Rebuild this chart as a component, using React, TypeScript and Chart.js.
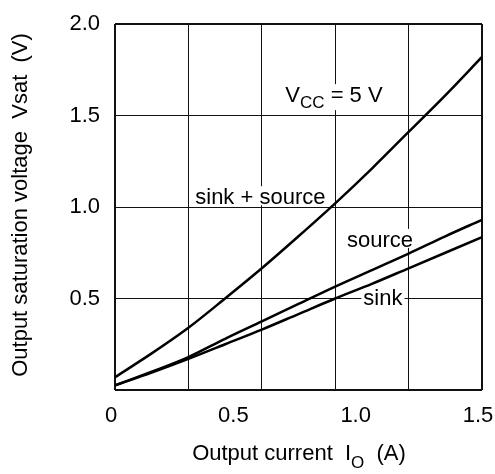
import React, { useEffect, useRef } from "react";
import { Chart, registerables } from "chart.js";

Chart.register(...registerables);

const X_VALUES = [0, 0.15, 0.3, 0.45, 0.6, 0.75, 0.9, 1.05, 1.2, 1.35, 1.5];
const SINK_SOURCE = [0.07, 0.2, 0.34, 0.5, 0.665, 0.84, 1.02, 1.21, 1.41, 1.61, 1.82];
const SOURCE = [0.025, 0.1, 0.18, 0.28, 0.375, 0.47, 0.565, 0.655, 0.745, 0.84, 0.93];
const SINK = [0.025, 0.095, 0.17, 0.25, 0.33, 0.415, 0.5, 0.58, 0.665, 0.75, 0.835];

const X_GRID = [0, 0.3, 0.6, 0.9, 1.2, 1.5];
const X_TICKS = [0, 0.5, 1.0, 1.5];
const X_TICK_LABELS = ["0", "0.5", "1.0", "1.5"];
const Y_TICKS = [0, 0.5, 1.0, 1.5, 2.0];
const Y_TICK_LABELS = ["", "0.5", "1.0", "1.5", "2.0"];

const X_TITLE: [string, number][] = [["Output current  I", 0], ["O", 1], ["  (A)", 0]];
const Y_TITLE = "Output saturation voltage  Vsat  (V)";

const ANNOTATIONS: { parts: [string, number][]; x: number; y: number }[] = [
  { parts: [["V", 0], ["CC", 1], [" = 5 V", 0]], x: 0.696, y: 1.573 },
  { parts: [["sink + source", 0]], x: 0.328, y: 1.015 },
  { parts: [["source", 0]], x: 0.948, y: 0.782 },
  { parts: [["sink", 0]], x: 1.015, y: 0.464 },
];

const FONT = '"Liberation Sans", Arial, Helvetica, sans-serif';
const MAIN_SIZE = 22;
const SUB_SIZE = 17;

function partsWidth(ctx: CanvasRenderingContext2D, parts: [string, number][]) {
  let w = 0;
  for (const [t, s] of parts) {
    ctx.font = `${s ? SUB_SIZE : MAIN_SIZE}px ${FONT}`;
    w += ctx.measureText(t).width;
  }
  return w;
}

function drawParts(ctx: CanvasRenderingContext2D, parts: [string, number][], x: number, y: number, subShift: number) {
  let cx = x;
  ctx.textBaseline = "alphabetic";
  ctx.textAlign = "left";
  ctx.fillStyle = "#000";
  for (const [t, s] of parts) {
    ctx.font = `${s ? SUB_SIZE : MAIN_SIZE}px ${FONT}`;
    ctx.fillText(t, cx, y + (s ? subShift : 0));
    cx += ctx.measureText(t).width;
  }
}

const textPlugin = {
  id: "textPlugin",
  beforeDatasetsDraw(chart: any) {
    const ctx = chart.ctx as CanvasRenderingContext2D;
    const xs = chart.scales.x;
    const ys = chart.scales.y;
    ctx.save();
    ctx.fillStyle = "#fff";
    for (const a of ANNOTATIONS) {
      const px = xs.getPixelForValue(a.x);
      const py = ys.getPixelForValue(a.y);
      const w = partsWidth(ctx, a.parts);
      const hasSub = a.parts.some((p) => p[1]);
      const top = py - 18;
      const bottom = py + (hasSub ? 8 : 1);
      ctx.fillRect(px - 2, top, w + 4, bottom - top);
    }
    ctx.restore();
  },
  afterDatasetsDraw(chart: any) {
    const ctx = chart.ctx as CanvasRenderingContext2D;
    const xs = chart.scales.x;
    const ys = chart.scales.y;
    ctx.save();
    for (const a of ANNOTATIONS) {
      const px = xs.getPixelForValue(a.x);
      const py = ys.getPixelForValue(a.y);
      drawParts(ctx, a.parts, px, py, 6);
    }
    ctx.restore();
  },
  afterDraw(chart: any) {
    const ctx = chart.ctx as CanvasRenderingContext2D;
    ctx.save();
    const w = partsWidth(ctx, X_TITLE);
    drawParts(ctx, X_TITLE, 299 - w / 2, 460, 8);
    ctx.translate(21, 205);
    ctx.rotate(-Math.PI / 2);
    ctx.font = `${MAIN_SIZE}px ${FONT}`;
    ctx.textAlign = "center";
    ctx.textBaseline = "middle";
    ctx.fillStyle = "#000";
    ctx.fillText(Y_TITLE, 0, 0);
    ctx.restore();
  },
};

export default function App() {
  const ref = useRef<HTMLCanvasElement | null>(null);

  useEffect(() => {
    if (!ref.current) return;
    const lineStyle = {
      borderColor: "#000",
      borderWidth: 2.5,
      pointRadius: 0,
      fill: false,
      cubicInterpolationMode: "monotone" as const,
    };
    const mk = (arr: number[]) => X_VALUES.map((x, i) => ({ x, y: arr[i] }));
    const edgeWidth = (ctx: any, min: number, max: number) =>
      ctx.tick && (Math.abs(ctx.tick.value - min) < 1e-9 || Math.abs(ctx.tick.value - max) < 1e-9) ? 2 : 1;
    const noPad = (s: any) => {
      s.paddingLeft = 0;
      s.paddingRight = 0;
      s.paddingTop = 0;
      s.paddingBottom = 0;
    };

    const chart = new Chart(ref.current, {
      type: "line",
      data: {
        datasets: [
          { label: "sink + source", data: mk(SINK_SOURCE), ...lineStyle },
          { label: "source", data: mk(SOURCE), ...lineStyle },
          { label: "sink", data: mk(SINK), ...lineStyle },
        ],
      },
      options: {
        animation: false,
        responsive: true,
        maintainAspectRatio: false,
        layout: { padding: { top: 24, right: 13, left: 0, bottom: 0 } },
        plugins: { legend: { display: false }, tooltip: { enabled: false } },
        scales: {
          x: {
            type: "linear",
            position: "bottom",
            min: 0,
            max: 1.5,
            afterBuildTicks: (s: any) => {
              s.ticks = X_GRID.map((v) => ({ value: v }));
            },
            afterFit: (s: any) => {
              s.height = 0;
              noPad(s);
            },
            ticks: { display: false },
            border: { display: false },
            grid: {
              color: "#111",
              lineWidth: (c: any) => edgeWidth(c, 0, 1.5),
              drawTicks: false,
            },
          },
          xl: {
            type: "linear",
            position: "bottom",
            min: 0,
            max: 1.5,
            afterBuildTicks: (s: any) => {
              s.ticks = X_TICKS.map((v) => ({ value: v }));
            },
            afterFit: (s: any) => {
              s.height = 84;
              noPad(s);
            },
            ticks: {
              padding: 13,
              labelOffset: -4,
              color: "#000",
              font: { family: FONT, size: MAIN_SIZE },
              maxRotation: 0,
              callback: (v: any) => {
                const i = X_TICKS.findIndex((t) => Math.abs(t - Number(v)) < 1e-9);
                return i >= 0 ? X_TICK_LABELS[i] : "";
              },
            },
            border: { display: false },
            grid: { display: false, drawTicks: false },
          },
          y: {
            type: "linear",
            min: 0,
            max: 2,
            afterBuildTicks: (s: any) => {
              s.ticks = Y_TICKS.map((v) => ({ value: v }));
            },
            afterFit: (s: any) => {
              s.width = 115;
              noPad(s);
            },
            ticks: {
              padding: 15,
              color: "#000",
              font: { family: FONT, size: MAIN_SIZE },
              callback: (v: any) => {
                const i = Y_TICKS.findIndex((t) => Math.abs(t - Number(v)) < 1e-9);
                return i >= 0 ? Y_TICK_LABELS[i] : "";
              },
            },
            border: { display: false },
            grid: {
              color: "#111",
              lineWidth: (c: any) => edgeWidth(c, 0, 2),
              drawTicks: false,
            },
          },
        },
      },
      plugins: [textPlugin],
    } as any);
    return () => chart.destroy();
  }, []);

  return (
    <div style={{ position: "absolute", left: 0, top: 0, width: 495, height: 474, background: "#fff" }}>
      <canvas ref={ref} />
    </div>
  );
}
